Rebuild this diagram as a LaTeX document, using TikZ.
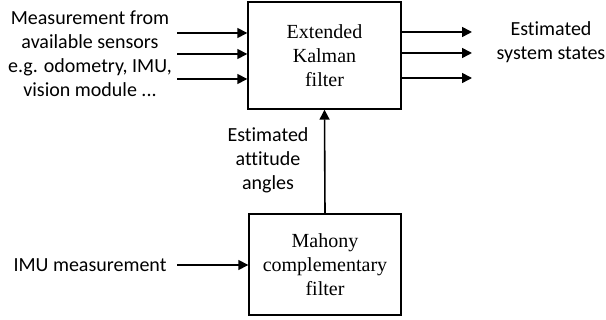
\documentclass[tikz,border=0pt]{standalone}
\usepackage{fontspec}
\setmainfont{Liberation Serif}
\newfontfamily\calib[Ligatures=NoCommon]{Carlito}
\usetikzlibrary{arrows.meta}
\begin{document}
\begin{tikzpicture}[x=1pt,y=-1pt,
  box/.style={draw,line width=1.4pt,inner sep=0pt},
  lab/.style={font=\calib\fontsize{20}{24}\selectfont,align=center,inner sep=0pt},
  inner/.style={font=\fontsize{20}{24}\selectfont,align=center,inner sep=0pt},
  arr/.style={line width=1.6pt,-{Triangle[length=10pt,width=10pt]}}]
\useasboundingbox (0,0) rectangle (606,320);
\node[box,minimum width=153pt,minimum height=107pt] (ekf) at (324.5,55.5) {};
\node[inner] at (ekf.center) {Extended\\Kalman\\filter};
\node[box,minimum width=152pt,minimum height=101pt] (mah) at (325,264.5) {};
\node[inner] at (mah.center) {Mahony\\complementary\\filter};
\node[lab] (meas) at (90,54) {Measurement from\\available sensors\\e.g. odometry, IMU,\\vision module .\kern0pt.\kern0pt.};
\node[lab] (est) at (551,42.5) {Estimated\\system states};
\node[lab] (att) at (268,160) {Estimated\\attitude\\angles};
\node[lab] (imu) at (90,265) {IMU measurement};
\foreach \y/\n in {33/a,54/b,79/c}{
  \coordinate (i\n) at (177,\y);
  \draw[arr] (i\n) -- (i\n -| ekf.west);
}
\foreach \y/\n in {32/a,53/b,78/c}{
  \coordinate (o\n) at (472,\y);
  \draw[arr] (o\n -| ekf.east) -- (o\n);
}
\coordinate (imuend) at (177,265);
\draw[arr] (imuend) -- (imuend -| mah.west);
\draw[arr] (mah.north) -- (ekf.south);
\end{tikzpicture}
\end{document}
